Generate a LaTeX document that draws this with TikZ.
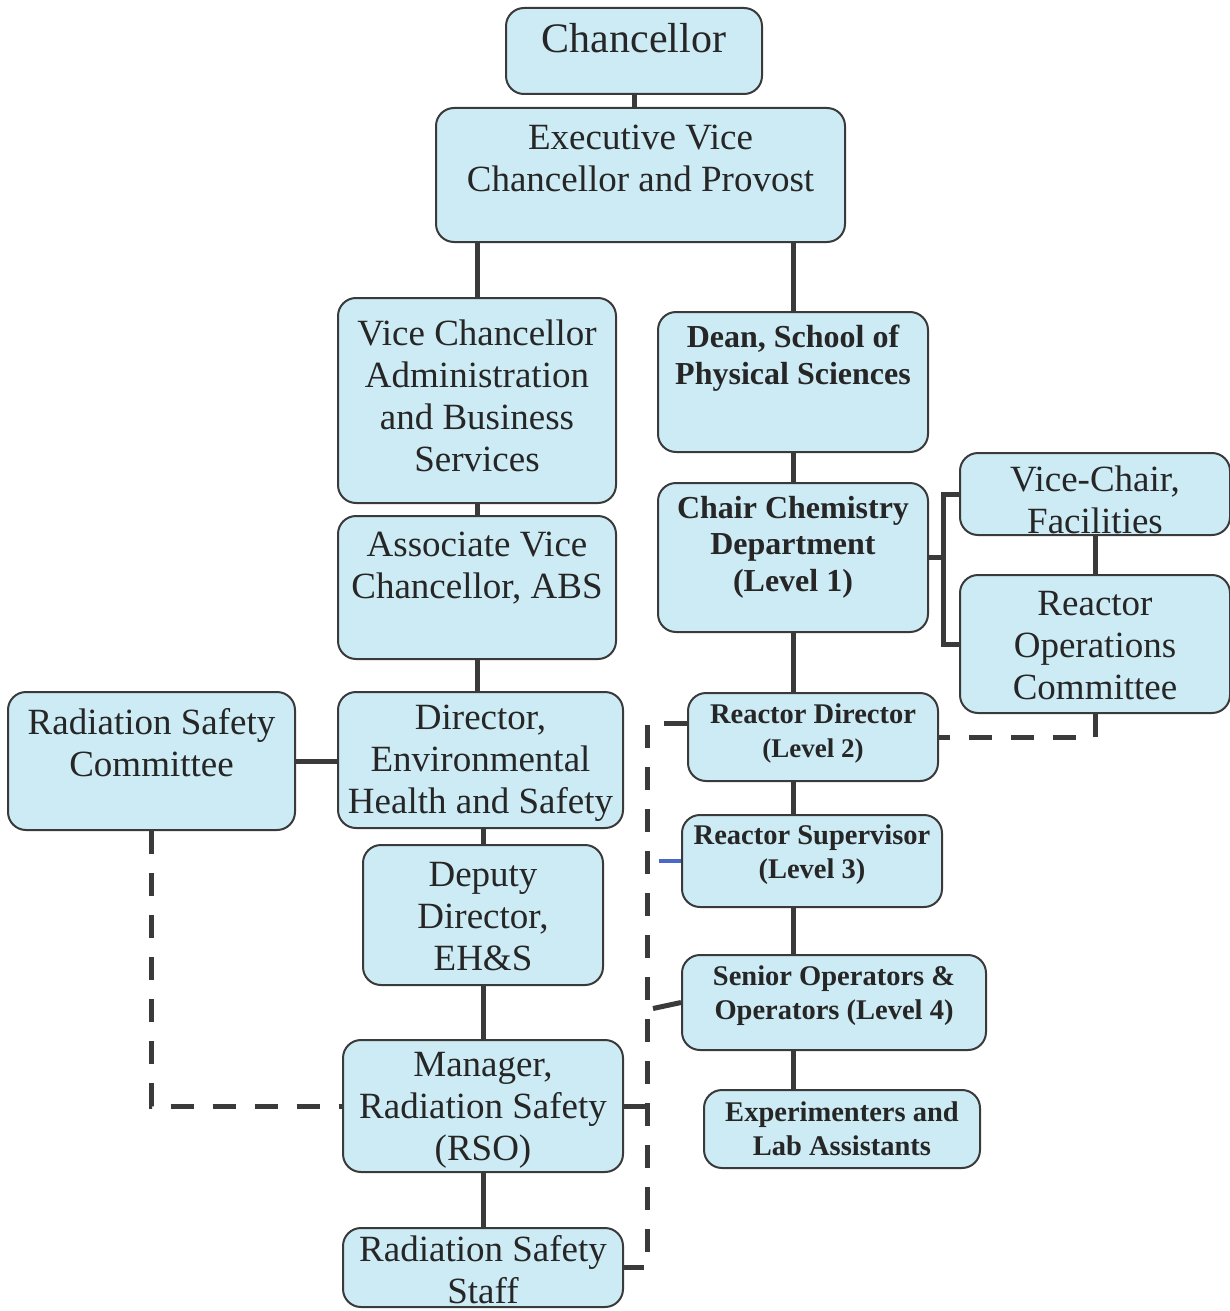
\documentclass[tikz,border=0pt]{standalone}
\usepackage{fontspec}
\setmainfont{Liberation Serif}
\usepackage{xcolor}
\definecolor{boxblue}{HTML}{CDEBF4}
\definecolor{edgegray}{HTML}{3A3A3A}
\definecolor{inkgray}{HTML}{262626}
\definecolor{stubblue}{HTML}{4A68C8}

\begin{document}
\begin{tikzpicture}[x=1pt,y=-1pt]
    \tikzstyle{unit}=[draw=edgegray, line width=2pt, fill=boxblue, rounded corners=18pt, inner sep=0pt]
    \tikzstyle{lblbig}=[text=inkgray, align=center, font=\fontsize{42}{48}\selectfont]
    \tikzstyle{lblreg}=[text=inkgray, align=center, font=\fontsize{37}{42}\selectfont]
    \tikzstyle{lblbold}=[text=inkgray, align=center, font=\fontsize{32}{36.5}\selectfont\bfseries]
    \tikzstyle{lblsmall}=[text=inkgray, align=center, font=\fontsize{28.5}{33.5}\selectfont\bfseries]
    \tikzstyle{link}=[draw=edgegray, line width=5pt]
    \tikzstyle{dashlink}=[link, dash pattern=on 23pt off 19pt]
    \tikzstyle{stub}=[draw=stubblue, line width=4pt]
    \useasboundingbox (0,0) rectangle (1230,1311);

    % left column
    \node[unit, minimum width=256pt, minimum height=86pt, label={[lblbig, yshift=13pt]center:Chancellor}] (chan) at (634,51) {};
    \node[unit, minimum width=409pt, minimum height=134pt, label={[lblreg, yshift=16.5pt]center:Executive Vice\\Chancellor and Provost}] (evc) at (640.5,175) {};
    \node[unit, minimum width=278pt, minimum height=205pt, label={[lblreg, yshift=5pt]center:Vice Chancellor\\Administration\\and Business\\Services}] (vcabs) at (477,400.5) {};
    \node[unit, minimum width=278pt, minimum height=143pt, label={[lblreg, yshift=19.5pt]center:Associate Vice\\Chancellor, ABS}] (avc) at (477,587.5) {};
    \node[unit, minimum width=287pt, minimum height=138pt, label={[lblreg, yshift=18.5pt]center:Radiation Safety\\Committee}] (rsc) at (151.5,761) {};
    \node[unit, minimum width=285pt, minimum height=136pt, label={[lblreg, yshift=-3pt]center:Director,\\Environmental\\Health and Safety}] (deh) at (480.5,760) {};
    \node[unit, minimum width=240pt, minimum height=140pt, label={[lblreg, yshift=-2pt]center:Deputy\\Director,\\EH\&S}] (ddir) at (483,915) {};
    \node[unit, minimum width=280pt, minimum height=132pt, label={[lblreg, yshift=-4pt]center:Manager,\\Radiation Safety\\(RSO)}] (mgr) at (483,1106) {};
    \node[unit, minimum width=280pt, minimum height=79pt, label={[lblreg, yshift=-2pt]center:Radiation Safety\\Staff}] (staff) at (483,1267.5) {};

    % right column
    \node[unit, minimum width=270pt, minimum height=140pt, label={[lblbold, yshift=24pt]center:Dean, School of\\Physical Sciences}] (dean) at (793,382) {};
    \node[unit, minimum width=270pt, minimum height=149pt, label={[lblbold, yshift=10.5pt]center:Chair Chemistry\\Department\\(Level 1)}] (chair) at (793,557.5) {};
    \node[unit, minimum width=270pt, minimum height=82pt, label={[lblreg, yshift=-6pt]center:Vice-Chair,\\Facilities}] (vcf) at (1095,494) {};
    \node[unit, minimum width=270pt, minimum height=138pt, label={[lblreg, yshift=-2pt]center:Reactor\\Operations\\Committee}] (roc) at (1095,644) {};
    \node[unit, minimum width=250pt, minimum height=88pt, label={[lblsmall, yshift=3.5pt]center:Reactor Director\\{\fontsize{27}{32}\selectfont (Level 2)}}] (rdir) at (813,737) {};
    \node[unit, minimum width=260pt, minimum height=92pt, label={[lblsmall, yshift=6.5pt]center:Reactor Supervisor\\(Level 3)}] (rsup) at (812,861) {};
    \node[unit, minimum width=304pt, minimum height=95pt, label={[lblsmall, yshift=7pt]center:Senior Operators \&\\Operators (Level 4)}] (sop) at (834,1002.5) {};
    \node[unit, minimum width=276pt, minimum height=78pt, label={[lblsmall, yshift=0.5pt]center:Experimenters and\\Lab Assistants}] (exp) at (842,1129) {};

    \coordinate (bus) at (647,723);
    \coordinate (brk) at (943,557.5);

    % solid lines
    \draw[link] (chan.south) -- (chan.south |- evc.north);
    \draw[link] (evc.south -| vcabs.north) -- (vcabs.north);
    \draw[link] (evc.south -| dean.north) -- (dean.north);
    \draw[link] (vcabs.south) -- (avc.north);
    \draw[link] (avc.south) -- (avc.south |- deh.north);
    \draw[link] (rsc.east) -- (rsc.east -| deh.west);
    \draw[link] (deh.south -| ddir.north) -- (ddir.north);
    \draw[link] (ddir.south) -- (mgr.north);
    \draw[link] (mgr.south) -- (staff.north);
    \draw[link] (dean.south) -- (chair.north);
    \draw[link] (chair.south) -- (chair.south |- rdir.north);
    \draw[link] (rdir.south -| chair.south) -- (rsup.north -| chair.south);
    \draw[link] (rsup.south -| chair.south) -- (sop.north -| chair.south);
    \draw[link] (sop.south -| chair.south) -- (exp.north -| chair.south);
    \draw[link] (chair.east) -- (brk);
    \draw[link] (vcf.west) -| (brk) |- (roc.west);
    \draw[link] (vcf.south) -- (roc.north);
    \draw[link] (sop.west) -- ([xshift=6pt,yshift=-6pt]sop.west -| bus);
    \draw[stub] (rsup.west) -- ([xshift=12pt]rsup.west -| bus);

    % dashed lines
    \draw[dashlink] (roc.south) |- (rdir.east);
    \draw[dashlink] (rsc.south) |- (mgr.west);
    \draw[dashlink] ([yshift=14pt]rdir.west) -- (bus) -- (bus |- staff.east) -- (staff.east);
    \draw[dashlink] (mgr.east) -- (mgr.east -| bus);
\end{tikzpicture}
\end{document}
